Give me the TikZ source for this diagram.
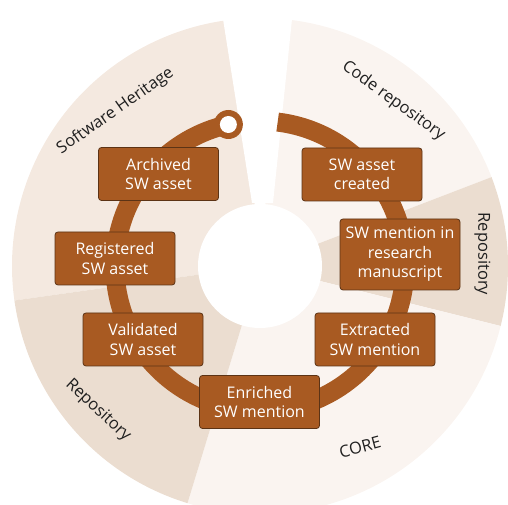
\documentclass[tikz,border=0pt]{standalone}
\usepackage{fontspec}
\setmainfont{Open Sans}
\usetikzlibrary{calc}
\definecolor{ringbrown}{HTML}{A85A22}
\definecolor{boxedge}{HTML}{5C3315}
\definecolor{heritage}{HTML}{F4E9E0}
\definecolor{repo}{HTML}{EBDDD0}
\definecolor{paleseg}{HTML}{FAF4F0}
\definecolor{labelgray}{HTML}{1F1F1F}

\begin{document}
\begin{tikzpicture}
  [x=1pt, y=1pt,
  stagebox/.style={rectangle, draw=boxedge, line width=0.8pt, fill=ringbrown, text=white, align=center, rounded corners=3pt, minimum width=120pt, minimum height=53pt, inner sep=2pt, font=\fontsize{16}{19.5}\selectfont},
  sector/.style={font=\fontsize{16.5}{18}\selectfont, text=labelgray, inner sep=0pt},
  ring/.style={draw=ringbrown, line width=19pt}]
  \useasboundingbox (0,0) rectangle (508,505);
  \clip (0,0) rectangle (508,505);
  \coordinate (c) at (260,239);

  % segments
  \fill[heritage] (c) -- ++(188:248) arc[start angle=188, end angle=95, radius=248] -- cycle;
  \fill[paleseg] (c) -- ++(85:248) arc[start angle=85, end angle=21, radius=248] -- cycle;
  \fill[repo] (c) -- ++(21:248) arc[start angle=21, end angle=-14, radius=248] -- cycle;
  \fill[paleseg] (c) -- ++(-14:248) arc[start angle=-14, end angle=-107, radius=248] -- cycle;
  \fill[repo] (c) -- ++(253:248) arc[start angle=253, end angle=188, radius=248] -- cycle;
  % gap and hole
  \fill[white] (252,302) -- (219.2,510) -- (294.5,510) -- (273,302) -- cycle;
  \fill[white] (c) circle[radius=62];

  % ring
  \coordinate (ringhead) at ($(c)+(83:145)$);
  \coordinate (ringtail) at ($(c)+(102.6:145)$);
  \draw[ring] (ringhead) arc[start angle=83, end angle=-257.4, radius=145];
  \fill[ringbrown] (ringtail) circle[radius=14.5];
  \fill[white] (ringtail) circle[radius=8.5];

  % stages
  \node[stagebox] (created) at (362,330.5) {SW asset\\created};
  \node[stagebox, minimum height=71pt] (manuscript) at (400,250.5) {SW mention in\\research\\manuscript};
  \node[stagebox] (extracted) at (375,165.5) {Extracted\\SW mention};
  \node[stagebox] (enriched) at (259.5,103) {Enriched\\SW mention};
  \node[stagebox] (validated) at (143,165.5) {Validated\\SW asset};
  \node[stagebox] (registered) at (115,246.5) {Registered\\SW asset};
  \node[stagebox] (archived) at (158.5,331) {Archived\\SW asset};

  % labels
  \node[sector, rotate=35] (swh) at (115.5,394) {Software Heritage};
  \node[sector, rotate=-36] (coderepo) at (393.5,404) {Code repository};
  \node[sector, rotate=-90] (reporight) at (482.5,251) {Repository};
  \node[sector, rotate=-43] (repoleft) at (98,94.5) {Repository};
  \node[sector, rotate=15] (core) at (360,58) {CORE};
\end{tikzpicture}
\end{document}
